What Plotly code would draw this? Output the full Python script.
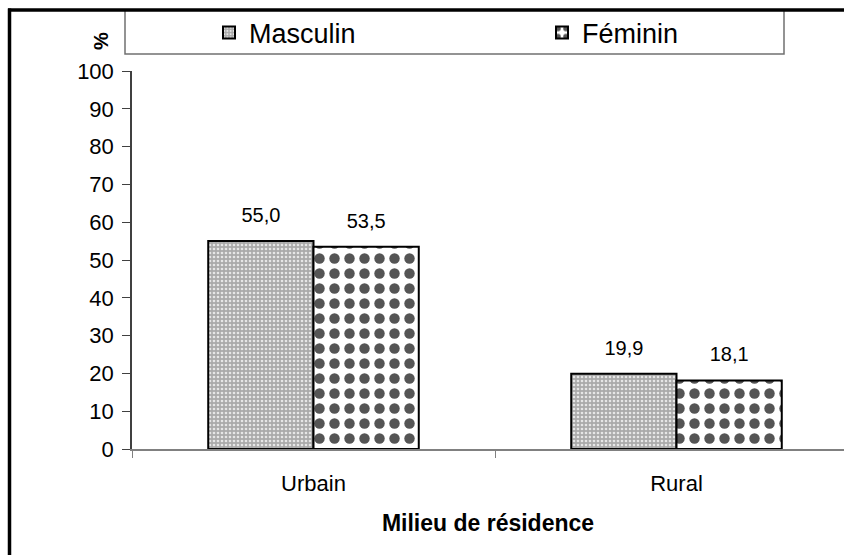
import plotly.graph_objects as go

# data
milieu = ['Urbain', 'Rural']
masculin = [55.0, 19.9]
feminin = [53.5, 18.1]
y_ticks = [0, 10, 20, 30, 40, 50, 60, 70, 80, 90, 100]

W, H = 844, 555
ML, MR, MT, MB = 132, 0, 71, 106
PW, PH = W - ML - MR, H - MT - MB


def px_x(x):
    return (x - ML) / PW


def px_y(y):
    return (H - MB - y) / PH


font = 'Liberation Sans, Arial, sans-serif'

fig = go.Figure()
fig.add_trace(go.Bar(
    x=milieu, y=masculin, name='Masculin', offsetgroup='m', legend='legend',
    marker=dict(color='#b4b4b4', line=dict(color='black', width=2),
                pattern=dict(shape='.', bgcolor='#aaaaaa', fgcolor='#e6e6e6',
                             size=4, solidity=0.35, fillmode='replace')),
))
fig.add_trace(go.Bar(
    x=milieu, y=feminin, name='Féminin', offsetgroup='f', legend='legend2',
    marker=dict(color='white', line=dict(color='black', width=2),
                pattern=dict(shape='.', bgcolor='white', fgcolor='#555555',
                             size=15, solidity=0.38, fillmode='replace')),
))
# value labels, grouped like the bars
for vals, grp in [(masculin, 'm'), (feminin, 'f')]:
    fig.add_trace(go.Scatter(
        x=milieu, y=vals, offsetgroup=grp, mode='markers+text',
        texttemplate='%{y:.1f}',
        textposition='top center', showlegend=False, hoverinfo='skip',
        marker=dict(size=21, opacity=0),
        textfont=dict(family=font, size=20, color='black'),
    ))

shapes = [
    # legend box
    dict(type='rect', xref='paper', yref='paper',
         x0=px_x(125), x1=px_x(784), y0=px_y(54), y1=px_y(10),
         line=dict(color='#707070', width=1.5), fillcolor='white', layer='below'),
    # outer frame, top and left
    dict(type='line', xref='paper', yref='paper',
         x0=px_x(8), x1=px_x(W + 5), y0=px_y(10), y1=px_y(10),
         line=dict(color='black', width=3.5)),
    dict(type='line', xref='paper', yref='paper',
         x0=px_x(9.5), x1=px_x(9.5), y0=px_y(8.5), y1=px_y(H + 5),
         line=dict(color='black', width=3.5)),
]

leg = dict(orientation='h', xanchor='left', y=px_y(33), yanchor='middle',
           bgcolor='rgba(0,0,0,0)', font=dict(size=27), itemwidth=30)

fig.update_layout(
    width=W, height=H,
    margin=dict(l=ML, r=MR, t=MT, b=MB),
    paper_bgcolor='white', plot_bgcolor='white',
    barmode='group', bargap=0.42, bargroupgap=0,
    scattermode='group', scattergap=0.42,
    separators=', ',
    font=dict(family=font, size=20, color='black'),
    showlegend=True,
    legend=dict(leg, x=px_x(209)),
    legend2=dict(leg, x=px_x(542)),
    shapes=shapes,
    annotations=[dict(text='<b>%</b>', xref='paper', yref='paper',
                      x=px_x(88), y=px_y(30), showarrow=False,
                      textangle=-90, font=dict(size=20))],
    xaxis=dict(range=[-0.5, (W - ML) / 363 - 0.5], showline=True,
               linecolor='#808080', linewidth=1.5, ticks='outside',
               tickson='boundaries', ticklen=7, tickcolor='#808080',
               ticklabelstandoff=14,
               title=dict(text='<b>Milieu de résidence</b>', standoff=20,
                          font=dict(size=23)),
               tickfont=dict(size=22), showgrid=False),
    yaxis=dict(range=[0, 100], tickvals=y_ticks, showline=True,
               linecolor='#404040', linewidth=1.5, ticks='outside',
               ticklen=8, tickcolor='#404040', showgrid=False,
               ticklabelstandoff=4,
               zeroline=False, tickfont=dict(size=22)),
)

fig.write_html('out.html', config={'displayModeBar': False},
               post_script="document.body.style.margin='0';")
